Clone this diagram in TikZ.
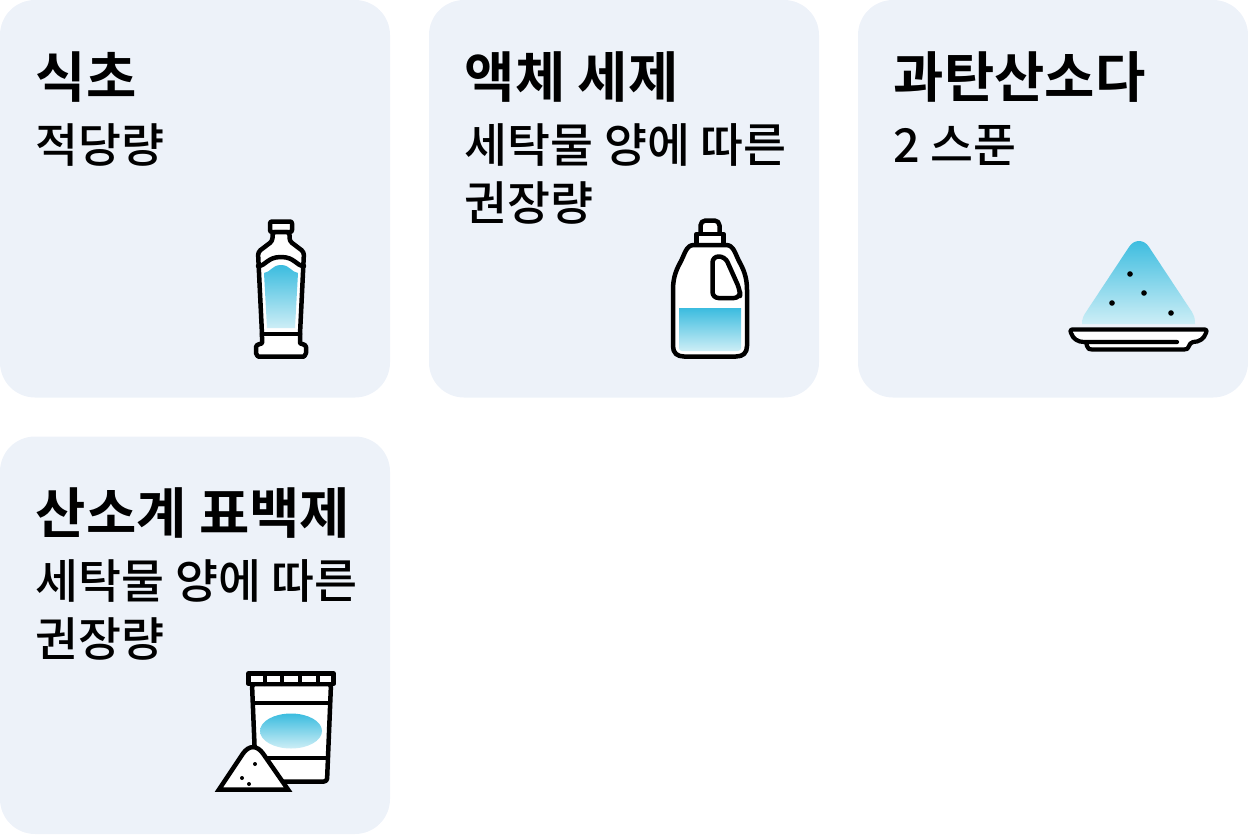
\documentclass[tikz,border=0pt]{standalone}
\usepackage{fontspec}
\setmainfont{Noto Sans CJK KR}
\newfontfamily\titlefont{Noto Sans CJK KR Bold}
\newfontfamily\amountfont{Noto Sans CJK KR Medium}
\usetikzlibrary{positioning}
\definecolor{cardbg}{HTML}{EDF2F9}
\definecolor{liqtop}{HTML}{3BBCDF}
\definecolor{liqbot}{HTML}{CDEEF6}
\tikzset{
    card/.style={fill=cardbg, rounded corners=35pt, minimum width=390pt, minimum height=397.5pt, inner sep=0pt, outer sep=0pt},
    title/.style={anchor=base west, inner sep=0pt, font=\fontsize{54.7}{54.7}\selectfont\titlefont},
    amount/.style={anchor=base west, inner sep=0pt, align=left, font=\fontsize{46.7}{58}\selectfont\amountfont},
    ink/.style={draw=black, line width=4.5pt, line join=round, line cap=round},
    inkfill/.style={ink, fill=white},
    liquid/.style={top color=liqtop, bottom color=liqbot, draw=none},
    speck/.style={fill=black, draw=none}
}
\begin{document}
\begin{tikzpicture}[x=1pt, y=-1pt, node distance=39pt]
    \useasboundingbox (0,0) rectangle (1248,835);

    % Define cards
    \node[card, anchor=north west]		(vinegar)	at (0,0)	{};
    \node[card, right = of vinegar]		(detergent)	{};
    \node[card, right = of detergent]		(soda)		{};
    \node[card, below = of vinegar]		(bleach)	{};

    % Add labels
    \node[title] (vinegar-t) at ([shift={(35.5,97)}]vinegar.north west) {식초};
    \node[amount] (vinegar-a) at ([shift={(35.5,162.5)}]vinegar.north west) {적당량};
    \node[title] (detergent-t) at ([shift={(35.5,97)}]detergent.north west) {액체 세제};
    \node[amount, anchor=north west] (detergent-a) at ([shift={(35.5,123)}]detergent.north west) {세탁물 양에 따른\\권장량};
    \node[title] (soda-t) at ([shift={(35.5,97)}]soda.north west) {과탄산소다};
    \node[amount] (soda-a) at ([shift={(35.5,162.5)}]soda.north west) {2 스푼};
    \node[title] (bleach-t) at ([shift={(35.5,97)}]bleach.north west) {산소계 표백제};
    \node[amount, anchor=north west] (bleach-a) at ([shift={(35.5,123)}]bleach.north west) {세탁물 양에 따른\\권장량};

    % Vinegar bottle
    \draw[inkfill, rounded corners=2pt] (270,221.5) rectangle (292,232);
    \draw[inkfill, rounded corners=3pt] (272.5,232) -- (272.5,241) -- (258,252) -- (262,334) -- (262,340) .. controls (262,344) and (256,344) .. (256,350) .. controls (256,354) and (258,356.5) .. (261,356.5) -- (301,356.5) .. controls (304,356.5) and (306,354) .. (306,350) .. controls (306,344) and (300,344) .. (300,340) -- (300,334) -- (304,252) -- (289.5,241) -- (289.5,232) -- cycle;
    \draw[ink] (258,266) .. controls (266,266) and (267,257) .. (281,257) .. controls (295,257) and (296,266) .. (304,266);
    \draw[ink] (262,334) -- (300,334);
    \shade[liquid] (264,273) .. controls (271,272) and (272,265) .. (281,265) .. controls (290,265) and (291,272) .. (298,273) -- (295,328) -- (267,328) -- cycle;

    % Detergent bottle
    \draw[inkfill, rounded corners=5pt] (700.5,234) -- (700.5,220.5) -- (719.5,220.5) -- (719.5,234);
    \draw[inkfill] (696.5,234) rectangle (723.5,245);
    \draw[inkfill] (694,245) .. controls (686,245) and (685,254) .. (680,263) .. controls (675,272) and (673,280) .. (673,290) -- (673,346) .. controls (673,353) and (677,356.5) .. (684,356.5) -- (736,356.5) .. controls (743,356.5) and (747,353) .. (747,346) -- (747,290) .. controls (747,280) and (745,272) .. (740,263) .. controls (735,254) and (734,245) .. (726,245) -- cycle;
    \draw[ink, rounded corners=6pt] (712.5,256.5) -- (725,256.5) -- (740,290) -- (740,298) -- (712.5,298) -- cycle;
    \shade[liquid] (679,308) -- (741,308) [rounded corners=3pt] -- (741,351) -- (679,351) [sharp corners] -- cycle;

    % Soda plate
    \shade[liquid] (1082,324) .. controls (1082,318) and (1084,315) .. (1086,312) -- (1129,247) .. controls (1134,239) and (1144,239) .. (1149,247) -- (1192,312) .. controls (1194,315) and (1195,318) .. (1195,324) -- cycle;
    \foreach \dx/\dy [count=\i] in {1130/274, 1144/293, 1112/303, 1171/313} {
        \fill[speck] (\dx,\dy) circle (2.8pt);
    }
    \draw[inkfill, line width=4.2pt] (1177,342) -- (1084,342) .. controls (1078,342) and (1073,339) .. (1071,333) .. controls (1070,331) and (1070,329.5) .. (1072,329.5) -- (1205,329.5) .. controls (1207,329.5) and (1207,331) .. (1206,333) .. controls (1204,339) and (1199,342) .. (1193,342) .. controls (1190,342) and (1190,345) .. (1189,346) .. controls (1188,349) and (1187,349.5) .. (1184,349.5) -- (1092,349.5) .. controls (1089,349.5) and (1088,349) .. (1087,346) -- (1086,342);

    % Bleach cup
    \draw[inkfill, rounded corners=3pt] (252,684) -- (256,781.5) -- (327,781.5) -- (331,684) -- cycle;
    \draw[inkfill, line width=4.2pt] (248.5,673.5) rectangle (333.5,684);
    \foreach \divx in {265,282,300,318} {
        \draw[ink, line width=4.2pt] (\divx,673.5) -- (\divx,684);
    }
    \draw[ink, line width=4.2pt] (253,703) -- (330,703);
    \draw[ink, line width=4.2pt] (256,758) -- (328,758);
    \shade[liquid] (291,731) ellipse (31pt and 17.5pt);
    \draw[inkfill, line join=miter] (219,789.5) -- (243,753.5) .. controls (249,745) and (257,745) .. (263,753.5) -- (288,789.5) -- cycle;
    \foreach \dx/\dy in {255/764, 242/778, 249/784} {
        \fill[speck] (\dx,\dy) circle (2pt);
    }
\end{tikzpicture}
\end{document}
